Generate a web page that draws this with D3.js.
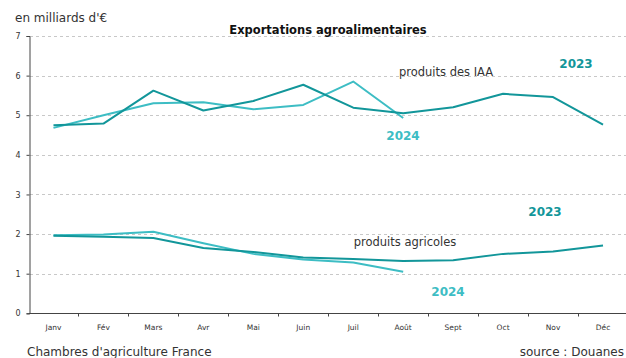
<!DOCTYPE html>
<html><head><meta charset="utf-8">
<script src="https://cdn.jsdelivr.net/npm/d3@7"></script>
<style>body{margin:0;background:#fff;}svg{display:block;font-family:"DejaVu Sans",Verdana,sans-serif;}</style>
</head><body>
<svg id="c" width="626" height="358"></svg>
<script>
const months = ["Janv","Fév","Mars","Avr","Mai","Juin","Juil","Août","Sept","Oct","Nov","Déc"];
const yTicks = [0,1,2,3,4,5,6,7];
const iaa2023 = [4.75,4.79,5.62,5.12,5.36,5.77,5.19,5.05,5.2,5.54,5.46,4.76];
const iaa2024 = [4.68,5.0,5.3,5.33,5.15,5.26,5.85,4.93];
const agri2023 = [1.96,1.93,1.9,1.65,1.55,1.41,1.37,1.32,1.34,1.5,1.56,1.71];
const agri2024 = [1.97,1.99,2.06,1.77,1.5,1.36,1.28,1.05];
const c2023 = "#12969a", c2024 = "#3dbdc4";

const svg = d3.select("#c");
const x = d3.scaleBand().domain(months).range([28.5, 628]);
const y = d3.scaleLinear().domain([0,7]).range([313.3, 36]);
const L = 29;

// grid
svg.append("g").selectAll("line").data(yTicks.filter(d=>d>0)).join("line")
  .attr("x1", L+1).attr("x2", 626).attr("y1", d=>Math.round(y(d))+0.5).attr("y2", d=>Math.round(y(d))+0.5)
  .attr("stroke", "#c8c8c8").attr("stroke-dasharray", "3,3").attr("stroke-width",1);

// y axis
const ya = svg.append("g").attr("transform", `translate(${L+0.5},0)`)
  .call(d3.axisLeft(y).tickValues(yTicks).tickFormat(d3.format("d")).tickSize(3).tickPadding(6));
ya.select(".domain").attr("stroke", "#444");
ya.selectAll("line").attr("stroke", "#444");
ya.selectAll("text").attr("font-size", 8).attr("fill", "#333").attr("font-family","DejaVu Sans");

// x axis
const xa = svg.append("g").attr("transform", `translate(0,${Math.round(y(0))+0.5})`);
xa.append("line").attr("x1", L).attr("x2", 626).attr("stroke", "#444");
xa.selectAll("line.t").data(months.slice(1)).join("line").attr("class","t")
  .attr("x1", d=>Math.round(x(d))+0.5).attr("x2", d=>Math.round(x(d))+0.5).attr("y1",0).attr("y2",3).attr("stroke","#444");
xa.selectAll("text").data(months).join("text")
  .attr("x", d=>x(d)+x.bandwidth()/2).attr("y", 16).attr("text-anchor","middle")
  .attr("font-size", 7.5).attr("fill","#333").text(d=>d);

const line = d3.line().x((d,i)=>x(months[i])+x.bandwidth()/2).y(d=>y(d));
function draw(data, color){
  svg.append("path").datum(data).attr("d", line).attr("fill","none")
    .attr("stroke", color).attr("stroke-width", 2).attr("stroke-linejoin","round");
}
draw(iaa2024, c2024);
draw(iaa2023, c2023);
draw(agri2024, c2024);
draw(agri2023, c2023);

// texts
const T = (tx, ty, s, o={}) => svg.append("text").attr("x",tx).attr("y",ty).text(s)
  .attr("font-size", o.fs||12).attr("fill", o.fill||"#333").attr("font-weight", o.fw||"normal")
  .attr("text-anchor", o.anchor||"start").attr("font-family", o.ff||"DejaVu Sans");
T(15, 22, "en milliards d'€", {fs:12});
T(328, 34, "Exportations agroalimentaires", {fs:11.5, fw:"bold", anchor:"middle", fill:"#111"});
T(446, 76, "produits des IAA", {fs:11.5, anchor:"middle"});
T(576, 68, "2023", {fs:12, fw:"bold", anchor:"middle", fill:c2023});
T(403, 140, "2024", {fs:12, fw:"bold", anchor:"middle", fill:c2024});
T(545, 216, "2023", {fs:12, fw:"bold", anchor:"middle", fill:c2023});
T(405, 246, "produits agricoles", {fs:11.5, anchor:"middle"});
T(448, 296, "2024", {fs:12, fw:"bold", anchor:"middle", fill:c2024});
T(27, 356, "Chambres d'agriculture France", {fs:12});
T(624, 356, "source : Douanes", {fs:12, anchor:"end"});
</script>
</body></html>
